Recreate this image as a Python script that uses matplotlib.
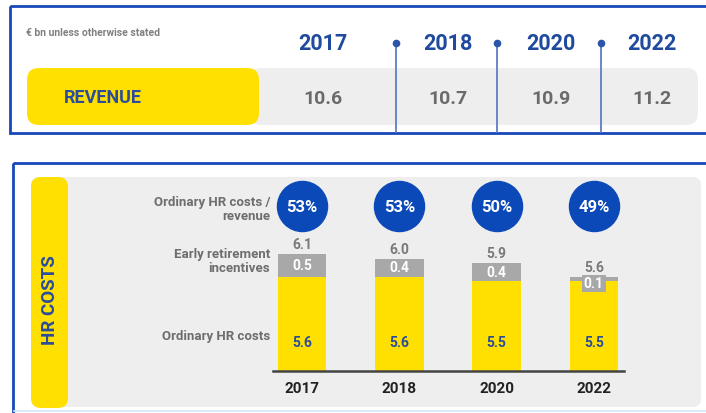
import matplotlib.pyplot as plt
from matplotlib.patches import FancyBboxPatch, Rectangle
import matplotlib.transforms as mtransforms

plt.rcParams['font.family'] = ['Roboto', 'DejaVu Sans']

# ==========================================================
# Data
# ==========================================================

rev_years = ["2017", "2018", "2020", "2022"]
revenue = [10.6, 10.7, 10.9, 11.2]

hr_years = ["2017", "2018", "2020", "2022"]
ordinary_hr = [5.6, 5.6, 5.5, 5.5]
early_retirement = [0.5, 0.4, 0.4, 0.1]
hr_total = [6.1, 6.0, 5.9, 5.6]
hr_ratio = ["53%", "53%", "50%", "49%"]

# ==========================================================
# Style
# ==========================================================

BLUE = "#1747b8"
TXT_BLUE = "#2b4c9b"
YELLOW = "#ffe000"
CAP_GRAY = "#a8a8a8"
PANEL = "#eeeeee"
LABEL_GRAY = "#6e6e6e"

W, H = 706, 414
fig = plt.figure(figsize=(W / 100, H / 100), dpi=100)
fig.patch.set_facecolor("white")

# background axes in pixel coordinates (y down)
bg = fig.add_axes([0, 0, 1, 1])
bg.set_xlim(0, W)
bg.set_ylim(H, 0)
bg.axis("off")

# ----------------------------------------------------------
# Top box : revenue
# ----------------------------------------------------------

bg.add_patch(Rectangle((10, 7), 720, 127, fill=False, ec=BLUE, lw=2.0))
bg.text(26, 33, "€ bn unless otherwise stated", fontsize=7.5, color="#808080",
        fontweight="bold", va="center", ha="left")

bg.add_patch(FancyBboxPatch((250, 69), 448, 57, boxstyle="round,pad=0,rounding_size=12",
                            fc=PANEL, ec="none"))
bg.add_patch(FancyBboxPatch((27, 69), 232, 57, boxstyle="round,pad=0,rounding_size=12",
                            fc=YELLOW, ec="none"))
bg.text(103, 98, "REVENUE", fontsize=13, fontweight="bold", color=TXT_BLUE,
        ha="center", va="center")

rev_cols = [323, 448, 551, 652]
rev_seps = [396, 497, 601]

for xc, yr, val in zip(rev_cols, rev_years, revenue):
    bg.text(xc, 44, yr, fontsize=15.5, fontweight="bold", color="#1f4a9e",
            ha="center", va="center")
    bg.text(xc, 99, f"{val:.1f}", fontsize=14, fontweight="bold", color="#6a6a6a",
            ha="center", va="center")

for xs in rev_seps:
    bg.plot([xs, xs], [44, 133], color="#5b7fc4", lw=1.3)
    bg.plot(xs, 44, "o", color="#2a55a8", ms=4.5)

# ----------------------------------------------------------
# Bottom box : HR costs
# ----------------------------------------------------------

bg.add_patch(Rectangle((13, 164), 720, 300, fill=False, ec=BLUE, lw=2.0))
bg.plot([14, 706], [412, 412], color="#cfe8f8", lw=1.2)

bg.add_patch(FancyBboxPatch((31, 178), 670, 230, boxstyle="round,pad=0,rounding_size=8",
                            fc=PANEL, ec="none"))
bg.add_patch(FancyBboxPatch((31, 178), 37, 231, boxstyle="round,pad=0,rounding_size=10",
                            fc=YELLOW, ec="none"))
bg.text(50, 300, "HR COSTS", fontsize=13.5, fontweight="bold", color=TXT_BLUE,
        rotation=90, ha="center", va="center")

bg.text(270, 210, "Ordinary HR costs /\nrevenue", fontsize=9.5, fontweight="bold",
        color=LABEL_GRAY, ha="right", va="center", linespacing=1.1)
bg.text(270, 262, "Early retirement\nincentives", fontsize=9.5, fontweight="bold",
        color=LABEL_GRAY, ha="right", va="center", linespacing=1.1)
bg.text(270, 337, "Ordinary HR costs", fontsize=9.5, fontweight="bold",
        color=LABEL_GRAY, ha="right", va="center")

# bar axes: baseline at pixel y=372, top at 178, x from 273 to 624
ax = fig.add_axes([273 / W, (H - 372) / H, (624 - 273) / W, (372 - 178) / H])
ax.patch.set_alpha(0)
base = 3.5
ax.set_xlim(-0.30, 3.31)
ax.set_ylim(base, base + 194 / 45)
for s in ["top", "right", "left"]:
    ax.spines[s].set_visible(False)
ax.spines["bottom"].set_color("#444444")
ax.spines["bottom"].set_linewidth(1.8)
ax.set_yticks([])
ax.set_xticks(range(len(hr_years)))
ax.set_xticklabels(hr_years, fontsize=11, fontweight="bold", color="#222222")
ax.tick_params(axis="x", length=0, pad=7)

x = list(range(len(hr_years)))
ax.bar(x, [v - base for v in ordinary_hr], bottom=base, width=0.50, color=YELLOW)
ax.bar(x, early_retirement, bottom=ordinary_hr, width=0.50, color=CAP_GRAY)

trans = mtransforms.blended_transform_factory(ax.transData, ax.transAxes)
ax.scatter(x, [0.85] * len(x), s=1300, color="#0b49b8", transform=trans,
           clip_on=False, zorder=3)

for i in x:
    ax.text(i, 0.85, hr_ratio[i], transform=trans, fontsize=12, fontweight="bold",
            color="white", ha="center", va="center", zorder=4)
    ax.text(i, hr_total[i] + 0.06, f"{hr_total[i]:.1f}", fontsize=10, fontweight="bold",
            color="#7a7a7a", ha="center", va="bottom")
    mid = ordinary_hr[i] + early_retirement[i] / 2
    if early_retirement[i] < 0.2:
        ax.text(i, mid - 0.1, f"{early_retirement[i]:.1f}", fontsize=10, fontweight="bold",
                color="white", ha="center", va="center",
                bbox=dict(boxstyle="square,pad=0.12", fc=CAP_GRAY, ec="none"))
    else:
        ax.text(i, mid, f"{early_retirement[i]:.1f}", fontsize=10, fontweight="bold",
                color="white", ha="center", va="center")
    ax.text(i, base + 0.65, f"{ordinary_hr[i]:.1f}", fontsize=10, fontweight="bold",
            color=TXT_BLUE, ha="center", va="center")

fig.savefig("out.png", dpi=100)
